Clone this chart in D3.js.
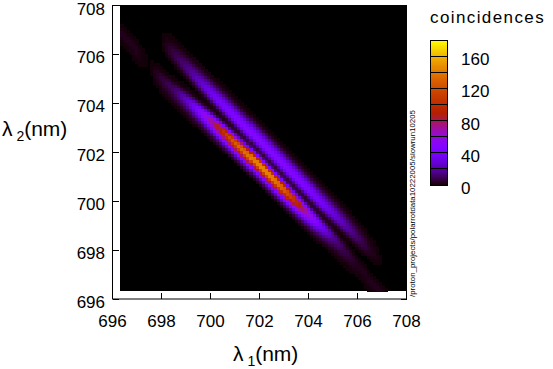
<!DOCTYPE html>
<html>
<head>
<meta charset="utf-8">
<script src="https://cdn.jsdelivr.net/npm/d3@7"></script>
<style>
  body { margin: 0; background: #fff; }
  text { font-family: "Liberation Sans", Arial, sans-serif; fill: #000; }
</style>
</head>
<body>
<div id="root"></div>
<script>
// axis ticks
var xTicks = [696, 698, 700, 702, 704, 706, 708];
var yTicks = [696, 698, 700, 702, 704, 706, 708];
var cbTicks = [0, 40, 80, 120, 160];
var cbMax = 180;

// positions (lambda1) where the streak profiles were read
var alongPos = [696.5, 697, 697.5, 698, 698.5, 699, 699.5, 700, 700.5, 701, 701.5, 702,
  702.5, 703, 703.5, 704, 704.5, 705, 705.5, 706, 706.5, 707, 707.5];
// main (bright) streak: peak counts and centre of lambda1+lambda2
var mainPeak = [3, 3, 0, 6, 12, 25, 45, 72, 104, 130, 146, 155, 152, 136, 104, 66, 38, 18, 8, 3, 3, 3, 0];
var mainSum = [1403.3, 1403.2, 1403.1, 1403.05, 1403.1, 1403.2, 1403.28, 1403.35, 1403.4, 1403.45, 1403.48, 1403.5,
  1403.5, 1403.5, 1403.5, 1403.5, 1403.52, 1403.55, 1403.5, 1403.4, 1403.3, 1403.3, 1403.3];
// second (weak) streak
var sidePeak = [0, 0, 0, 0, 8, 15, 25, 35, 42, 47, 50, 50, 50, 50, 48, 45, 40, 32, 22, 12, 4, 0, 0];
var sideSum = [1404.5, 1404.5, 1404.5, 1404.5, 1404.5, 1404.48, 1404.45, 1404.45, 1404.45, 1404.45, 1404.45, 1404.45,
  1404.45, 1404.45, 1404.45, 1404.45, 1404.45, 1404.48, 1404.5, 1404.5, 1404.5, 1404.5, 1404.5];
// cross profiles, offset in cells of lambda1+lambda2
var mainOffsets = [-7, -6, -5, -4, -3, -2, -1, 0, 1, 2, 3, 4, 5];
var mainProfile = [0, 0.04, 0.1, 0.22, 0.42, 0.65, 0.88, 1, 0.82, 0.42, 0.13, 0.03, 0];
var sideOffsets = [-5, -4, -3, -2, -1, 0, 1, 2, 3, 4, 5, 6, 7];
var sideProfile = [0, 0.03, 0.15, 0.45, 0.8, 1, 0.92, 0.75, 0.5, 0.28, 0.12, 0.04, 0];

var gridStart = 696.32, bin = 0.1226, nBins = 95;
var footnote = '/proton_projects/polarrotdata10222005/slowrun10205';

var W = 553, H = 369;
var svg = d3.select('#root').append('svg')
  .attr('width', W)
  .attr('height', H);

var x = d3.scaleLinear().domain([696, 708]).range([112.5, 406.5]);
var y = d3.scaleLinear().domain([696, 708]).range([299, 5.5]);

// gnuplot palette 7,5,15
var cbNorm = d3.scaleLinear().domain([0, cbMax]).range([0, 1]).clamp(true);
var palette = function(v) {
  var t = cbNorm(v);
  var r = Math.sqrt(t), g = t * t * t, b = Math.max(0, Math.sin(2 * Math.PI * t));
  return d3.rgb(r * 255, g * 255, b * 255).toString();
};

var mainPeakAt = d3.scaleLinear().domain(alongPos).range(mainPeak).clamp(true);
var mainSumAt = d3.scaleLinear().domain(alongPos).range(mainSum).clamp(true);
var sidePeakAt = d3.scaleLinear().domain(alongPos).range(sidePeak).clamp(true);
var sideSumAt = d3.scaleLinear().domain(alongPos).range(sideSum).clamp(true);
var mainProf = d3.scaleLinear().domain(mainOffsets).range(mainProfile).clamp(true);
var sideProf = d3.scaleLinear().domain(sideOffsets).range(sideProfile).clamp(true);

var cells = [];
d3.range(nBins).forEach(function(i) {
  d3.range(nBins).forEach(function(j) {
    var l1 = gridStart + (i + 0.5) * bin;
    var l2 = gridStart + (j + 0.5) * bin;
    var s = l1 + l2;
    var v = mainPeakAt(l1) * mainProf((s - mainSumAt(l1)) / bin) +
      sidePeakAt(l1) * sideProf((s - sideSumAt(l1)) / bin);
    v = Math.round(v);
    if (v > 0) cells.push({i: i, j: j, v: v});
  });
});

// tick marks (drawn under the image, like gnuplot)
var tickLen = 6;
var ticks = svg.append('g').attr('id', 'ticks').attr('stroke', '#000').attr('shape-rendering', 'crispEdges');
xTicks.forEach(function(t) {
  ticks.append('line').attr('x1', x(t)).attr('x2', x(t)).attr('y1', 299).attr('y2', 299 - tickLen);
  ticks.append('line').attr('x1', x(t)).attr('x2', x(t)).attr('y1', 5.5).attr('y2', 5.5 + tickLen);
});
yTicks.forEach(function(t) {
  ticks.append('line').attr('x1', 112.5).attr('x2', 112.5 + tickLen).attr('y1', y(t)).attr('y2', y(t));
  ticks.append('line').attr('x1', 406.5).attr('x2', 406.5 - tickLen).attr('y1', y(t)).attr('y2', y(t));
});

// heatmap
var img = svg.append('g').attr('id', 'heatmap').attr('shape-rendering', 'crispEdges');
var gridEnd = Math.min(708, gridStart + nBins * bin);
img.append('rect')
  .attr('x', x(gridStart))
  .attr('y', y(gridEnd))
  .attr('width', x(gridEnd) - x(gridStart))
  .attr('height', y(gridStart) - y(gridEnd))
  .attr('fill', palette(0));
img.selectAll('rect.cell')
  .data(cells)
  .enter()
  .append('rect')
  .attr('class', 'cell')
  .attr('x', function(d) { return x(gridStart + d.i * bin); })
  .attr('y', function(d) { return y(Math.min(708, gridStart + (d.j + 1) * bin)); })
  .attr('width', function(d) { return x(Math.min(708, gridStart + (d.i + 1) * bin)) - x(gridStart + d.i * bin) + 0.4; })
  .attr('height', function(d) { return y(gridStart + d.j * bin) - y(Math.min(708, gridStart + (d.j + 1) * bin)) + 0.4; })
  .attr('fill', function(d) { return palette(d.v); });

// frame
svg.append('rect')
  .attr('x', 112.5).attr('y', 5.5)
  .attr('width', 294).attr('height', 293.5)
  .attr('fill', 'none').attr('stroke', '#000');

// tick labels
svg.append('g').selectAll('text')
  .data(xTicks).enter().append('text')
  .attr('x', function(d) { return x(d); })
  .attr('y', 327)
  .attr('text-anchor', 'middle')
  .attr('font-size', 17)
  .text(function(d) { return d; });
svg.append('g').selectAll('text')
  .data(yTicks).enter().append('text')
  .attr('x', 105)
  .attr('y', function(d) { return y(d) + 9; })
  .attr('text-anchor', 'end')
  .attr('font-size', 17)
  .text(function(d) { return d; });

// axis labels
var xl = svg.append('text').attr('x', 233).attr('y', 361).attr('font-size', 21);
xl.append('tspan').text('λ');
xl.append('tspan').attr('dy', 5).attr('font-size', 14).text(' 1');
xl.append('tspan').attr('dy', -5).text('(nm)');
var yl = svg.append('text').attr('x', 2).attr('y', 136).attr('font-size', 21);
yl.append('tspan').text('λ');
yl.append('tspan').attr('dy', 5).attr('font-size', 14).text(' 2');
yl.append('tspan').attr('dy', -5).text('(nm)');

// footnote
svg.append('text')
  .attr('transform', 'translate(415,297) rotate(-90)')
  .attr('font-size', 7)
  .attr('textLength', 187)
  .attr('lengthAdjust', 'spacingAndGlyphs')
  .text(footnote);

// colour box
var cb = d3.scaleLinear().domain([0, cbMax]).range([185, 40]);
var cbox = svg.append('g').attr('id', 'colorbox').attr('shape-rendering', 'crispEdges');
cbox.selectAll('rect')
  .data(d3.range(0, cbMax, 1))
  .enter().append('rect')
  .attr('x', 430).attr('width', 17)
  .attr('y', function(d) { return cb(d + 1); })
  .attr('height', function(d) { return cb(d) - cb(d + 1) + 0.5; })
  .attr('fill', function(d) { return palette(d + 0.5); });
cbox.selectAll('line')
  .data(d3.range(0, cbMax + 1, 20))
  .enter().append('line')
  .attr('x1', 430).attr('x2', 447)
  .attr('y1', function(d) { return cb(d); })
  .attr('y2', function(d) { return cb(d); })
  .attr('stroke', '#000');
cbox.append('rect')
  .attr('x', 430).attr('y', 40).attr('width', 17).attr('height', 145)
  .attr('fill', 'none').attr('stroke', '#000');
svg.append('g').selectAll('text')
  .data(cbTicks).enter().append('text')
  .attr('x', 461)
  .attr('y', function(d) { return cb(d) + 9; })
  .attr('font-size', 17)
  .text(function(d) { return d; });
svg.append('text')
  .attr('x', 430).attr('y', 23)
  .attr('font-size', 17)
  .attr('letter-spacing', 1.4)
  .text('coincidences');
</script>
</body>
</html>
